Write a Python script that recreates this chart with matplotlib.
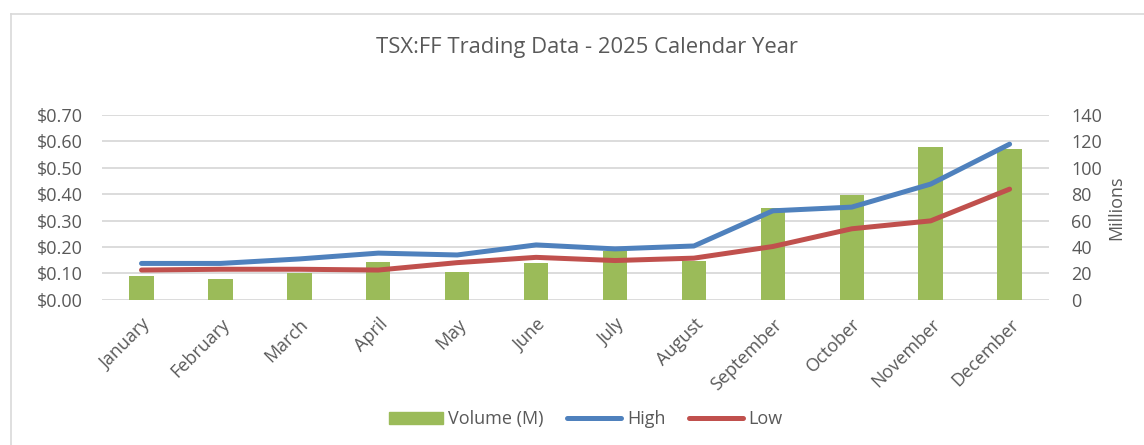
import matplotlib.pyplot as plt
import numpy as np
from matplotlib.lines import Line2D
from matplotlib.ticker import FuncFormatter

months = ["January", "February", "March", "April", "May", "June",
          "July", "August", "September", "October", "November", "December"]
volume_m = [18.4, 15.6, 20.4, 29.0, 21.2, 28.2, 37.0, 29.5, 69.8, 79.0, 115.5, 113.8]
high = [0.138, 0.138, 0.155, 0.177, 0.170, 0.208, 0.193, 0.204, 0.337, 0.351, 0.438, 0.589]
low = [0.113, 0.116, 0.116, 0.113, 0.141, 0.161, 0.149, 0.158, 0.202, 0.269, 0.299, 0.419]

GREEN = "#9BBB59"
BLUE = "#4F81BD"
RED = "#C0504D"
TEXT = "#595959"
GRID = "#D9D9D9"

plt.rcParams["font.family"] = ["Open Sans", "DejaVu Sans"]
FS = 13

fig = plt.figure(figsize=(11.44, 4.45), dpi=100)
ax = fig.add_axes([0.0892, 0.326, 0.8278, 0.416])
ax2 = ax.twinx()

x = np.arange(len(months))

# volume bars on the secondary axis, lines on the primary
ax2.bar(x, volume_m, width=0.31, color=GREEN, zorder=1)
ax2.set_ylim(0, 140)
ax2.set_yticks(np.arange(0, 141, 20))
ax2.set_ylabel("Millions", color=TEXT, fontsize=FS, labelpad=4)

ax.set_zorder(ax2.get_zorder() + 1)
ax.patch.set_visible(False)
ax.plot(x, high, color=BLUE, lw=3.6, solid_capstyle="round", solid_joinstyle="round")
ax.plot(x, low, color=RED, lw=3.6, solid_capstyle="round", solid_joinstyle="round")
ax.set_ylim(0, 0.70)
ax.set_yticks(np.arange(0, 0.71, 0.1))
ax.yaxis.set_major_formatter(FuncFormatter(lambda v, p: f"${v:.2f}"))
ax.set_xlim(-0.5, len(months) - 0.5)
ax.set_xticks(x)
ax.set_xticklabels(months, rotation=45, ha="right", rotation_mode="anchor")

# gridlines drawn behind the bars
for v in np.arange(0, 141, 20):
    ax2.axhline(v, color=GRID, lw=1.3, zorder=0)

for a in (ax, ax2):
    for s in a.spines.values():
        s.set_visible(False)
    a.tick_params(length=0, labelsize=FS, colors=TEXT)
ax.tick_params(axis="y", pad=14)
ax.tick_params(axis="x", pad=11)
ax2.tick_params(axis="y", pad=16)

# chart area is wider than the crop, so title and legend sit right of centre
fig.text(0.513, 0.893, "TSX:FF Trading Data - 2025 Calendar Year",
         ha="center", va="center", fontsize=15.8, color=TEXT)

handles = [
    plt.Rectangle((0, 0), 1, 1, color=GREEN),
    Line2D([], [], color=BLUE, lw=3.6, solid_capstyle="round"),
    Line2D([], [], color=RED, lw=3.6, solid_capstyle="round"),
]
fig.legend(handles, ["Volume (M)", "High", "Low"], loc="center",
           bbox_to_anchor=(0.512, 0.058), ncol=3, frameon=False, fontsize=FS,
           labelcolor=TEXT, handlelength=3.0, handletextpad=0.3, columnspacing=1.3)

# chart border (left and top edges visible in the crop)
fig.add_artist(Line2D([11 / 1144, 11 / 1144], [0, 1 - 14 / 445],
                      transform=fig.transFigure, color=GRID, lw=1.2))
fig.add_artist(Line2D([11 / 1144, 1], [1 - 14 / 445, 1 - 14 / 445],
                      transform=fig.transFigure, color=GRID, lw=1.2))

fig.savefig("out.png", dpi=100)
